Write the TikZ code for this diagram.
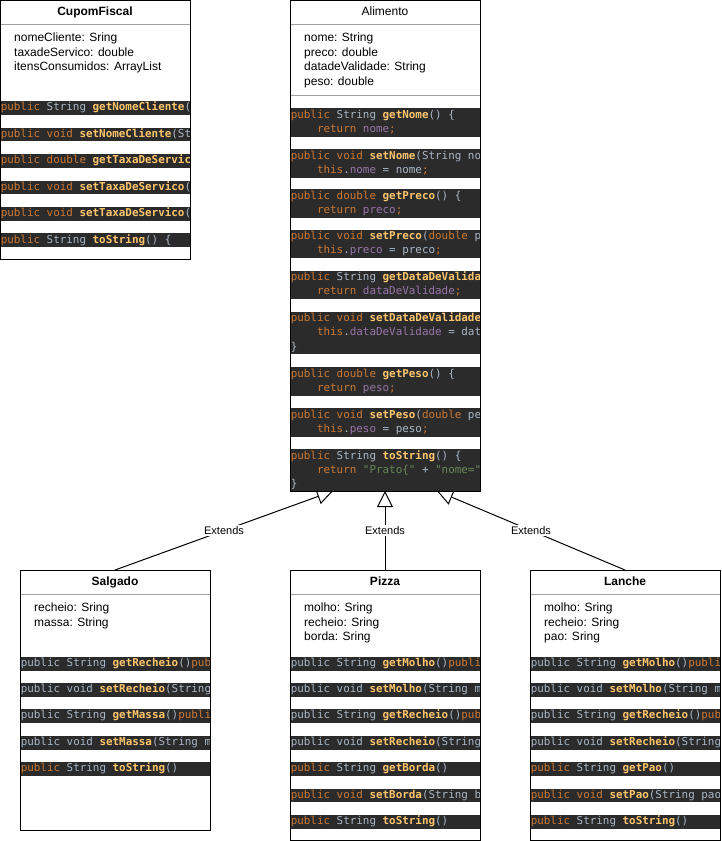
\documentclass[tikz,border=0pt]{standalone}
\usepackage{fontspec}
\setmainfont{Liberation Sans}
\newfontfamily\codefont{DejaVu Sans Mono}
\usetikzlibrary{arrows.meta,backgrounds,calc}
\definecolor{codebg}{HTML}{2B2B2B}
\definecolor{ckw}{HTML}{CC7832}
\definecolor{cdf}{HTML}{A9B7C6}
\definecolor{cmt}{HTML}{FFC66D}
\definecolor{cfd}{HTML}{9876AA}
\definecolor{cst}{HTML}{6A8759}
\definecolor{sepgray}{HTML}{A0A0A0}
\newcommand\Kw[1]{\textcolor{ckw}{#1}}
\newcommand\Df[1]{\textcolor{cdf}{#1}}
\newcommand\Mt[1]{\textcolor{cmt}{\bfseries #1}}
\newcommand\Fd[1]{\textcolor{cfd}{#1}}
\newcommand\Sg[1]{\textcolor{cst}{#1}}
\newcommand\Ind{\phantom{0000}}
\newcounter{cln}
\newcounter{atn}
\newcommand\cbar[3]{\fill[codebg] (#1,#2) rectangle ++(190,#3);}
\newcommand\cln[3]{\stepcounter{cln}\node[codetxt] (code\arabic{cln}) at (#1+0.6,#2+0.3) {#3};}
\newcommand\atr[3]{\stepcounter{atn}\node[attrtxt] (attr\arabic{atn}) at (#1+14,#2+1.2) {#3};}
\begin{document}
\begin{tikzpicture}[x=1pt,y=-1pt,
  classbox/.style={draw=black, line width=1pt, fill=white, minimum width=190pt,
    inner sep=0pt, outer sep=0pt, anchor=north west},
  codetxt/.style={anchor=mid west, inner sep=0pt, font=\fontsize{10.9}{13}\selectfont\codefont},
  attrtxt/.style={anchor=mid west, inner sep=0pt, font=\fontsize{12}{14}\selectfont},
  titletxt/.style={anchor=mid, inner sep=0pt, font=\fontsize{12}{14}\selectfont\bfseries},
  titleplain/.style={anchor=mid, inner sep=0pt, font=\fontsize{12}{14}\selectfont},
  sepline/.style={draw=sepgray, line width=1pt},
  extends/.style={draw=black, line width=1pt, -{Triangle[open,length=16pt,width=16pt]}},
  lbl/.style={fill=white, inner sep=1.5pt, font=\fontsize{11}{13}\selectfont}
]
\useasboundingbox (0,0) rectangle (721,841);

% ---------- class boxes ----------
\node[classbox, minimum height=259pt] (cupom) at (0,0) {};
\node[classbox, minimum height=491pt] (alimento) at (290,0) {};
\node[classbox, minimum height=260pt] (salgado) at (20,570) {};
\node[classbox, minimum height=270pt] (pizza) at (290,570) {};
\node[classbox, minimum height=270pt] (lanche) at (530,570) {};

% ---------- connectors ----------
\begin{pgfonlayer}{background}
\draw[extends] (salgado.north) -- node[lbl] (ext1) {Extends} ($(alimento.south)+(-52,0)$);
\draw[extends] (pizza.north) -- node[lbl] (ext2) {Extends} (alimento.south);
\draw[extends] (lanche.north) -- node[lbl] (ext3) {Extends} ($(alimento.south)+(52,0)$);
\end{pgfonlayer}

% ---------- CupomFiscal ----------
\node[titletxt] (tcupom) at (95,12.5) {CupomFiscal};
\draw[sepline] (0,24.3) -- (190,24.3);
\atr{0}{37.7}{nomeCliente: Sring}
\atr{0}{52.2}{taxadeServico: double}
\atr{0}{66.7}{itensConsumidos: ArrayList}
\begin{scope}
\clip (0,0) rectangle (190,259);
\cbar{0}{101}{13.5}\cln{0}{107.8}{\Kw{public} \Df{String} \Mt{getNomeCliente}\Df{(}}
\cbar{0}{127.5}{13.5}\cln{0}{134.3}{\Kw{public void} \Mt{setNomeCliente}\Df{(St}}
\cbar{0}{154}{13.5}\cln{0}{160.8}{\Kw{public double} \Mt{getTaxaDeServic}}
\cbar{0}{180.5}{13.5}\cln{0}{187.3}{\Kw{public void} \Mt{setTaxaDeServico}\Df{(}}
\cbar{0}{207}{13.5}\cln{0}{213.8}{\Kw{public void} \Mt{setTaxaDeServico}\Df{(}}
\cbar{0}{233.3}{13.5}\cln{0}{240.1}{\Kw{public} \Df{String} \Mt{toString}\Df{() \{}}
\end{scope}

% ---------- Alimento ----------
\node[titleplain] (talimento) at (385,12.5) {Alimento};
\draw[sepline] (290,24.3) -- (480,24.3);
\atr{290}{37.7}{nome: String}
\atr{290}{52.2}{preco: double}
\atr{290}{66.7}{datadeValidade: String}
\atr{290}{81.2}{peso: double}
\draw[sepline] (290,95.7) -- (480,95.7);
\begin{scope}
\clip (290,0) rectangle (480,491);
\cbar{290}{108}{28.6}
\cln{290}{115.1}{\Kw{public} \Df{String} \Mt{getNome}\Df{() \{}}
\cln{290}{129.3}{\Ind\Kw{return} \Fd{nome}\Kw{;}}
\cbar{290}{149}{28.6}
\cln{290}{156.1}{\Kw{public void} \Mt{setNome}\Df{(String no}}
\cln{290}{170.3}{\Ind\Kw{this}\Df{.}\Fd{nome} \Df{= nome}\Kw{;}}
\cbar{290}{189}{28.6}
\cln{290}{196.1}{\Kw{public double} \Mt{getPreco}\Df{() \{}}
\cln{290}{210.3}{\Ind\Kw{return} \Fd{preco}\Kw{;}}
\cbar{290}{229.5}{28.6}
\cln{290}{236.6}{\Kw{public void} \Mt{setPreco}\Df{(}\Kw{double} \Df{p}}
\cln{290}{250.8}{\Ind\Kw{this}\Df{.}\Fd{preco} \Df{= preco}\Kw{;}}
\cbar{290}{270.7}{28.6}
\cln{290}{277.8}{\Kw{public} \Df{String} \Mt{getDataDeValida}}
\cln{290}{292.0}{\Ind\Kw{return} \Fd{dataDeValidade}\Kw{;}}
\cbar{290}{311.7}{42.6}
\cln{290}{318.8}{\Kw{public void} \Mt{setDataDeValidade}}
\cln{290}{333.0}{\Ind\Kw{this}\Df{.}\Fd{dataDeValidade} \Df{= dat}}
\cln{290}{347.2}{\Df{\}}}
\cbar{290}{367.3}{28.6}
\cln{290}{374.4}{\Kw{public double} \Mt{getPeso}\Df{() \{}}
\cln{290}{388.6}{\Ind\Kw{return} \Fd{peso}\Kw{;}}
\cbar{290}{408.3}{28.6}
\cln{290}{415.4}{\Kw{public void} \Mt{setPeso}\Df{(}\Kw{double} \Df{pe}}
\cln{290}{429.6}{\Ind\Kw{this}\Df{.}\Fd{peso} \Df{= peso}\Kw{;}}
\cbar{290}{449}{42}
\cln{290}{456.1}{\Kw{public} \Df{String} \Mt{toString}\Df{() \{}}
\cln{290}{470.3}{\Ind\Kw{return} \Sg{"Prato\{"} \Df{+} \Sg{"nome="}}
\cln{290}{484.5}{\Df{\}}}
\end{scope}

% ---------- Salgado ----------
\node[titletxt] (tsalgado) at (115,582.5) {Salgado};
\draw[sepline] (20,594) -- (210,594);
\atr{20}{608}{recheio: Sring}
\atr{20}{622.4}{massa: String}
\begin{scope}
\clip (20,570) rectangle (210,830);
\cbar{20}{657.3}{13.4}\cln{20}{664}{\Df{public String} \Mt{getRecheio}\Df{()}\Kw{pub}}
\cbar{20}{683.3}{13.4}\cln{20}{690}{\Df{public void} \Mt{setRecheio}\Df{(String}}
\cbar{20}{709.3}{13.4}\cln{20}{716}{\Df{public String} \Mt{getMassa}\Df{()}\Kw{publi}}
\cbar{20}{736.3}{13.4}\cln{20}{743}{\Df{public void} \Mt{setMassa}\Df{(String m}}
\cbar{20}{762.3}{13.4}\cln{20}{769}{\Kw{public} \Df{String} \Mt{toString}\Df{()}}
\end{scope}

% ---------- Pizza ----------
\node[titletxt] (tpizza) at (385,582.5) {Pizza};
\draw[sepline] (290,594) -- (480,594);
\atr{290}{608}{molho: Sring}
\atr{290}{622.4}{recheio: Sring}
\atr{290}{636.8}{borda: Sring}
\begin{scope}
\clip (290,570) rectangle (480,840);
\cbar{290}{657.3}{13.4}\cln{290}{664}{\Df{public String} \Mt{getMolho}\Df{()}\Kw{publi}}
\cbar{290}{683.3}{13.4}\cln{290}{690}{\Df{public void} \Mt{setMolho}\Df{(String m}}
\cbar{290}{709.3}{13.4}\cln{290}{716}{\Df{public String} \Mt{getRecheio}\Df{()}\Kw{pub}}
\cbar{290}{736.3}{13.4}\cln{290}{743}{\Df{public void} \Mt{setRecheio}\Df{(String}}
\cbar{290}{762.3}{13.4}\cln{290}{769}{\Kw{public} \Df{String} \Mt{getBorda}\Df{()}}
\cbar{290}{789}{13.4}\cln{290}{795.7}{\Kw{public void} \Mt{setBorda}\Df{(String b}}
\cbar{290}{815.3}{13.4}\cln{290}{822}{\Kw{public} \Df{String} \Mt{toString}\Df{()}}
\end{scope}

% ---------- Lanche ----------
\node[titletxt] (tlanche) at (625,582.5) {Lanche};
\draw[sepline] (530,594) -- (720,594);
\atr{530}{608}{molho: Sring}
\atr{530}{622.4}{recheio: Sring}
\atr{530}{636.8}{pao: Sring}
\begin{scope}
\clip (530,570) rectangle (720,840);
\cbar{530}{657.3}{13.4}\cln{530}{664}{\Df{public String} \Mt{getMolho}\Df{()}\Kw{publi}}
\cbar{530}{683.3}{13.4}\cln{530}{690}{\Df{public void} \Mt{setMolho}\Df{(String m}}
\cbar{530}{709.3}{13.4}\cln{530}{716}{\Df{public String} \Mt{getRecheio}\Df{()}\Kw{pub}}
\cbar{530}{736.3}{13.4}\cln{530}{743}{\Df{public void} \Mt{setRecheio}\Df{(String}}
\cbar{530}{762.3}{13.4}\cln{530}{769}{\Kw{public} \Df{String} \Mt{getPao}\Df{()}}
\cbar{530}{789}{13.4}\cln{530}{795.7}{\Kw{public void} \Mt{setPao}\Df{(String pao}}
\cbar{530}{815.3}{13.4}\cln{530}{822}{\Kw{public} \Df{String} \Mt{toString}\Df{()}}
\end{scope}

% ---------- borders on top ----------
\foreach \b in {cupom,alimento,salgado,pizza,lanche}
  \draw[line width=1pt] (\b.north west) rectangle (\b.south east);
\end{tikzpicture}
\end{document}
